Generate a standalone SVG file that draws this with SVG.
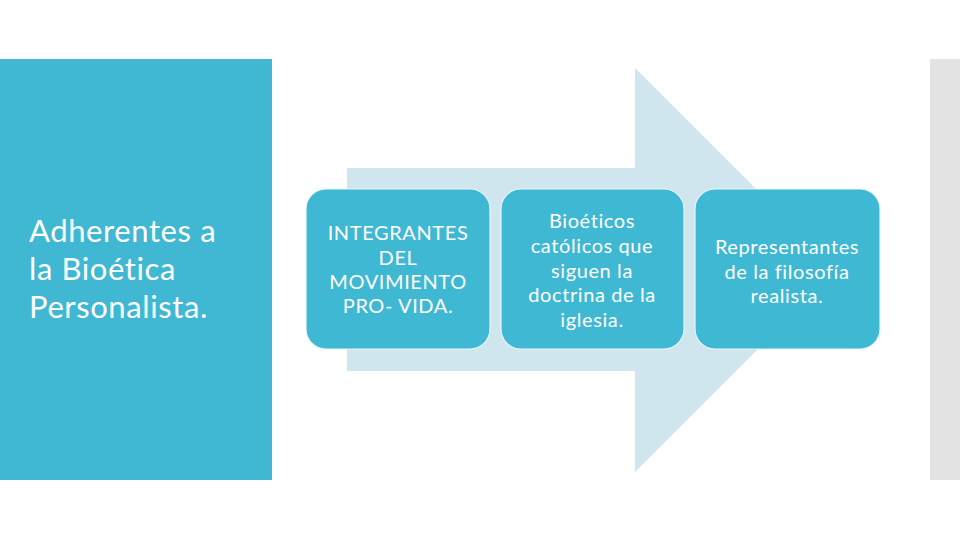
<svg xmlns="http://www.w3.org/2000/svg" width="960" height="540" viewBox="0 0 960 540">
<style>
.box{fill:#3FB8D3;stroke:#E8F6FA;stroke-width:1.2}
.t{font-family:Lato,"Open Sans","Liberation Sans",sans-serif;fill:#FFFFFF;text-anchor:middle;font-size:20px;letter-spacing:0.6px}
.big{font-family:Lato,"Open Sans","Liberation Sans",sans-serif;fill:#FFFFFF;font-size:31px;letter-spacing:0.6px}
</style>
<rect width="960" height="540" fill="#FFFFFF"/>
<g id="panel-left">
<rect x="0" y="59" width="272" height="421" fill="#41B8D3"/>
<text class="big" x="29" y="242">Adherentes a</text>
<text class="big" x="29" y="280">la Bioética</text>
<text class="big" x="29" y="318">Personalista.</text>
</g>
<g id="panel-right">
<rect x="930" y="59" width="30" height="421" fill="#E3E3E3"/>
</g>
<g id="connectors">
<polygon points="347,168 635,168 635,68 837,270 635,472 635,371 347,371" fill="#CFE6EE"/>
</g>
<g id="node1">
<rect class="box" x="306" y="189" width="184" height="160" rx="20"/>
<text class="t" x="398" y="240">INTEGRANTES</text>
<text class="t" x="398" y="264.5">DEL</text>
<text class="t" x="398" y="289">MOVIMIENTO</text>
<text class="t" x="398" y="313">PRO- VIDA.</text>
</g>
<g id="node2">
<rect class="box" x="501" y="189" width="183" height="160" rx="20"/>
<text class="t" x="592" y="228">Bioéticos</text>
<text class="t" x="592" y="253">católicos que</text>
<text class="t" x="592" y="278">siguen la</text>
<text class="t" x="592" y="302">doctrina de la</text>
<text class="t" x="592" y="327">iglesia.</text>
</g>
<g id="node3">
<rect class="box" x="695" y="189" width="185" height="160" rx="20"/>
<text class="t" x="787" y="254">Representantes</text>
<text class="t" x="787" y="279">de la filosofía</text>
<text class="t" x="787" y="303">realista.</text>
</g>
</svg>
